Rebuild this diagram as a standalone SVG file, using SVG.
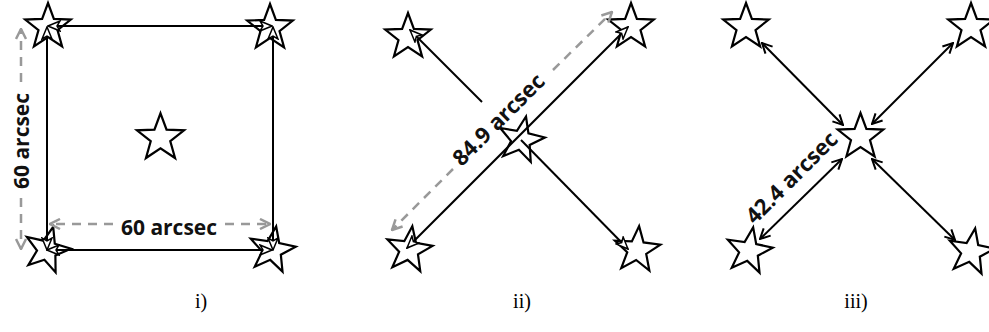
<svg xmlns="http://www.w3.org/2000/svg" width="989" height="332" viewBox="0 0 989 332">
<style>
.star{fill:#fff;stroke:#000;stroke-width:2.2;stroke-linejoin:miter}
.ln{fill:none;stroke:#000;stroke-width:2}
.gd{fill:none;stroke:#999;stroke-width:2.5;stroke-dasharray:9 7}
.lbl{font-family:"Open Sans","Liberation Sans",sans-serif;font-weight:700;font-size:21px;fill:#111}
.cap{font-family:"Liberation Serif","Times New Roman",serif;font-size:20px;fill:#000}
</style>
<defs>
<polygon id="st" points="0,-24 5.88,-8.09 22.83,-7.42 9.51,3.09 14.11,19.42 0,10 -14.11,19.42 -9.51,3.09 -22.83,-7.42 -5.88,-8.09"/>
<marker id="ah" viewBox="0 0 12 12" refX="11" refY="6" markerWidth="12" markerHeight="12" markerUnits="userSpaceOnUse" orient="auto-start-reverse"><path d="M1,1 L11,6 L1,11" fill="none" stroke="#000" stroke-width="2"/></marker>
<marker id="tri" viewBox="0 0 14 12" refX="13" refY="6" markerWidth="14" markerHeight="12" markerUnits="userSpaceOnUse" orient="auto-start-reverse"><path d="M1,1 L13,6 L1,11 L4,6 Z" fill="#fff" stroke="#000" stroke-width="1.5"/></marker>
<marker id="gah" viewBox="0 0 12 12" refX="11" refY="6" markerWidth="12" markerHeight="12" markerUnits="userSpaceOnUse" orient="auto-start-reverse"><path d="M1,1 L11,6 L1,11" fill="none" stroke="#999" stroke-width="2.5"/></marker>
</defs>

<!-- Panel i -->
<g id="p1-star-tl"><use href="#st" class="star" transform="translate(48,27)"/></g>
<g id="p1-star-tr"><use href="#st" class="star" transform="translate(270,28)"/></g>
<g id="p1-star-bl"><use href="#st" class="star" transform="translate(47,250) rotate(15)"/></g>
<g id="p1-star-br"><use href="#st" class="star" transform="translate(272,250) rotate(10)"/></g>
<g id="p1-star-c"><use href="#st" class="star" transform="translate(160.5,138) scale(1.03)"/></g>

<!-- Panel ii -->
<g id="p2-star-tl"><use href="#st" class="star" transform="translate(408,37)"/></g>
<g id="p2-star-tr"><use href="#st" class="star" transform="translate(631,27)"/></g>
<g id="p2-star-c"><use href="#st" class="star" transform="translate(521,140) rotate(12)"/></g>
<g id="p2-star-bl"><use href="#st" class="star" transform="translate(409,250) rotate(8)"/></g>
<g id="p2-star-br"><use href="#st" class="star" transform="translate(637,250) rotate(5)"/></g>

<!-- Panel iii -->
<g id="p3-star-tl"><use href="#st" class="star" transform="translate(746,27)"/></g>
<g id="p3-star-tr"><use href="#st" class="star" transform="translate(971,27)"/></g>
<g id="p3-star-c"><use href="#st" class="star" transform="translate(860.5,137)"/></g>
<g id="p3-star-bl"><use href="#st" class="star" transform="translate(749,251) rotate(10)"/></g>
<g id="p3-star-br"><use href="#st" class="star" transform="translate(971,252) rotate(10)"/></g>

<g id="connectors">
  <!-- panel i square -->
  <line class="ln" x1="48" y1="26" x2="272" y2="26" marker-start="url(#tri)" marker-end="url(#tri)"/>
  <line class="ln" x1="47" y1="27" x2="47" y2="250" marker-start="url(#tri)" marker-end="url(#tri)"/>
  <line class="ln" x1="47" y1="250" x2="272" y2="250" marker-start="url(#tri)" marker-end="url(#tri)"/>
  <line class="ln" x1="273" y1="27" x2="273" y2="250" marker-start="url(#tri)" marker-end="url(#tri)"/>
  <!-- panel i gray dimension arrows -->
  <line class="gd" x1="21" y1="82" x2="21" y2="29" marker-end="url(#gah)"/>
  <line class="gd" x1="21" y1="198" x2="21" y2="249" marker-end="url(#gah)"/>
  <line class="gd" x1="113" y1="224" x2="50" y2="224" marker-end="url(#gah)"/>
  <line class="gd" x1="225" y1="224" x2="270" y2="224" marker-end="url(#gah)"/>
  <!-- panel ii -->
  <line class="ln" x1="482" y1="102" x2="410" y2="30" marker-end="url(#tri)"/>
  <line class="ln" x1="521" y1="140" x2="628" y2="249" marker-end="url(#tri)"/>
  <line class="ln" x1="407" y1="248" x2="628" y2="27" marker-start="url(#tri)" marker-end="url(#tri)"/>
  <line class="gd" x1="453" y1="169" x2="392" y2="230" marker-end="url(#gah)"/>
  <line class="gd" x1="553" y1="70" x2="612" y2="12" marker-end="url(#gah)"/>
  <!-- panel iii -->
  <line class="ln" x1="762" y1="43" x2="843" y2="125" marker-start="url(#ah)" marker-end="url(#ah)"/>
  <line class="ln" x1="953" y1="43" x2="872" y2="124" marker-start="url(#ah)" marker-end="url(#ah)"/>
  <line class="ln" x1="842" y1="159" x2="760" y2="239" marker-start="url(#ah)" marker-end="url(#ah)"/>
  <line class="ln" x1="872" y1="159" x2="955" y2="240" marker-start="url(#ah)" marker-end="url(#ah)"/>
</g>

<g id="labels">
  <text class="lbl" x="169" y="235" text-anchor="middle">60 arcsec</text>
  <text class="lbl" text-anchor="middle" transform="translate(29,141) rotate(-90)">60 arcsec</text>
  <text class="lbl" text-anchor="middle" style="font-size:22px" transform="translate(504,125) rotate(-45)">84.9 arcsec</text>
  <text class="lbl" text-anchor="middle" style="font-size:22px" transform="translate(797,183) rotate(-45)">42.4 arcsec</text>
  <text class="cap" x="201" y="308" text-anchor="middle">i)</text>
  <text class="cap" x="522" y="308" text-anchor="middle">ii)</text>
  <text class="cap" x="856" y="308" text-anchor="middle">iii)</text>
</g>
</svg>
